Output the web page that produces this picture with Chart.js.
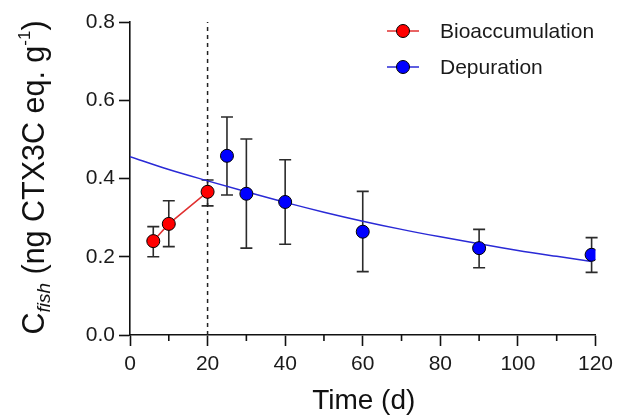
<!DOCTYPE html>
<html>
<head>
<meta charset="utf-8">
<script src="https://cdn.jsdelivr.net/npm/chart.js@4"></script>
<style>
  html, body { margin: 0; padding: 0; background: #fff; }
  #wrap { width: 619px; height: 418px; position: relative; }
</style>
</head>
<body>
<div id="wrap"><canvas id="c" width="619" height="418"></canvas></div>
<script>
// ---- data ----
const bioX = [6, 10, 20];
const bioY = [0.240, 0.284, 0.366];
const bioLow = [0.200, 0.226, 0.330];
const bioHigh = [0.277, 0.343, 0.396];

const depX = [25, 30, 40, 60, 90, 119];
const depY = [0.458, 0.361, 0.340, 0.264, 0.222, 0.205];
const depLow = [0.358, 0.222, 0.232, 0.162, 0.172, 0.160];
const depHigh = [0.557, 0.501, 0.448, 0.367, 0.270, 0.249];

// fitted depuration curve, read at several points of the picture
const fitX = [0, 10, 20, 30, 40, 50, 60, 70, 80, 90, 100, 110, 119];
const fitY = [0.456, 0.423, 0.394, 0.366, 0.339, 0.314, 0.291, 0.270, 0.251, 0.233, 0.216, 0.201, 0.188];

const xTicks = [0, 20, 40, 60, 80, 100, 120];
const xMinorTicks = [10, 30, 50, 70, 90, 110];
const yTicks = [0.0, 0.2, 0.4, 0.6, 0.8];
const separatorX = 20;

const seriesNames = ['Bioaccumulation', 'Depuration'];
const xTitle = 'Time (d)';

const FONT = "'Liberation Sans', Arial, sans-serif";
const RED = '#ff0000';
const BLUE = '#0000ff';
const FIT_BLUE = '#2a2ad6';
const BIO_LINE = '#e03030';

const toPts = (xs, ys) => xs.map((x, i) => ({ x: x, y: ys[i] }));

const errorBars = {
  id: 'errorBars',
  beforeDatasetsDraw(chart) {
    const ctx = chart.ctx, xs = chart.scales.x, ys = chart.scales.y;
    ctx.save();
    ctx.strokeStyle = '#2b2b2b';
    ctx.lineWidth = 1.6;
    const cap = 6;
    const draw = (X, L, H) => {
      X.forEach((x, i) => {
        const px = xs.getPixelForValue(x);
        const pl = ys.getPixelForValue(L[i]);
        const ph = ys.getPixelForValue(H[i]);
        ctx.beginPath();
        ctx.moveTo(px, pl); ctx.lineTo(px, ph);
        ctx.moveTo(px - cap, pl); ctx.lineTo(px + cap, pl);
        ctx.moveTo(px - cap, ph); ctx.lineTo(px + cap, ph);
        ctx.stroke();
      });
    };
    draw(bioX, bioLow, bioHigh);
    draw(depX, depLow, depHigh);
    // dashed separator
    const sx = xs.getPixelForValue(separatorX);
    ctx.setLineDash([4, 4]);
    ctx.lineWidth = 1.5;
    ctx.strokeStyle = '#222';
    ctx.beginPath();
    ctx.moveTo(sx, ys.getPixelForValue(0));
    ctx.lineTo(sx, ys.getPixelForValue(0.8));
    ctx.stroke();
    ctx.restore();
  },
  afterDraw(chart) {
    const ctx = chart.ctx, xs = chart.scales.x, ys = chart.scales.y;
    ctx.save();
    // minor x ticks
    ctx.strokeStyle = '#111';
    ctx.lineWidth = 1.6;
    const by = ys.getPixelForValue(0);
    xMinorTicks.forEach(v => {
      const px = xs.getPixelForValue(v);
      ctx.beginPath(); ctx.moveTo(px, by); ctx.lineTo(px, by + 6); ctx.stroke();
    });

    // legend
    const items = [
      { label: seriesNames[0], fill: RED, line: BIO_LINE },
      { label: seriesNames[1], fill: BLUE, line: FIT_BLUE }
    ];
    items.forEach((it, i) => {
      const cy = 31 + i * 36;
      const cx = 403;
      ctx.strokeStyle = it.line; ctx.lineWidth = 1.5;
      ctx.beginPath(); ctx.moveTo(cx - 16, cy); ctx.lineTo(cx + 16, cy); ctx.stroke();
      ctx.beginPath(); ctx.arc(cx, cy, 6.5, 0, Math.PI * 2);
      ctx.fillStyle = it.fill; ctx.fill();
      ctx.strokeStyle = '#000'; ctx.lineWidth = 1; ctx.stroke();
      ctx.fillStyle = '#1a1a1a';
      ctx.font = '21px ' + FONT;
      ctx.textBaseline = 'middle';
      ctx.textAlign = 'left';
      ctx.fillText(it.label, 440, cy + 1);
    });

    // x title
    ctx.font = '28px ' + FONT;
    ctx.fillStyle = '#111';
    ctx.textAlign = 'center';
    ctx.textBaseline = 'alphabetic';
    ctx.fillText(xTitle, (chart.chartArea.left + chart.chartArea.right) / 2 + 1, 409);

    // y title (rotated, with subscript and superscript)
    const parts = [
      { t: 'C', f: '30.5px ' + FONT, dy: 0 },
      { t: 'fish', f: 'italic 19px ' + FONT, dy: 6 },
      { t: ' (ng CTX3C eq. g', f: '30.5px ' + FONT, dy: 0 },
      { t: '-1', f: '17px ' + FONT, dy: -14 },
      { t: ')', f: '30.5px ' + FONT, dy: 0 }
    ];
    let total = 0;
    parts.forEach(p => { ctx.font = p.f; p.w = ctx.measureText(p.t).width; total += p.w; });
    ctx.translate(34, 177.5);
    ctx.rotate(-Math.PI / 2);
    ctx.textAlign = 'left';
    ctx.textBaseline = 'alphabetic';
    let x = -total / 2;
    const base = 10;
    parts.forEach(p => {
      ctx.font = p.f;
      ctx.fillText(p.t, x, base + p.dy);
      x += p.w;
    });
    ctx.restore();
  }
};

new Chart(document.getElementById('c'), {
  type: 'scatter',
  data: {
    datasets: [
      {
        label: seriesNames[0],
        data: toPts(bioX, bioY),
        showLine: true,
        borderColor: BIO_LINE,
        borderWidth: 1.5,
        pointBackgroundColor: RED,
        pointBorderColor: '#000',
        pointBorderWidth: 1,
        pointRadius: 6.5,
        order: 0
      },
      {
        label: seriesNames[1],
        data: toPts(depX, depY),
        showLine: false,
        pointBackgroundColor: BLUE,
        pointBorderColor: '#000',
        pointBorderWidth: 1,
        pointRadius: 6.5,
        order: 1
      },
      {
        label: 'fit',
        data: toPts(fitX, fitY),
        showLine: true,
        borderColor: FIT_BLUE,
        borderWidth: 1.5,
        pointRadius: 0,
        tension: 0.4,
        cubicInterpolationMode: 'monotone',
        order: 2
      }
    ]
  },
  options: {
    responsive: false,
    animation: false,
    events: [],
    layout: { padding: { top: 22, right: 21, left: 0, bottom: 0 } },
    plugins: { legend: { display: false }, tooltip: { enabled: false } },
    scales: {
      x: {
        type: 'linear',
        min: 0, max: 120,
        afterBuildTicks: s => { s.ticks = xTicks.map(v => ({ value: v })); },
        afterFit: s => { s.height = 83; },
        ticks: { font: { family: FONT, size: 21 }, color: '#1a1a1a', padding: 6, maxRotation: 0 },
        grid: { drawOnChartArea: false, tickLength: 11, tickWidth: 1.6, tickColor: '#111' },
        border: { color: '#111', width: 1.6 }
      },
      y: {
        min: 0, max: 0.8,
        afterBuildTicks: s => { s.ticks = yTicks.map(v => ({ value: v })); },
        afterFit: s => { s.width = 130; },
        ticks: { font: { family: FONT, size: 21 }, color: '#1a1a1a', padding: 4, callback: v => v.toFixed(1) },
        grid: { drawOnChartArea: false, tickLength: 11, tickWidth: 1.6, tickColor: '#111' },
        border: { color: '#111', width: 1.6 }
      }
    }
  },
  plugins: [errorBars]
});
</script>
</body>
</html>
